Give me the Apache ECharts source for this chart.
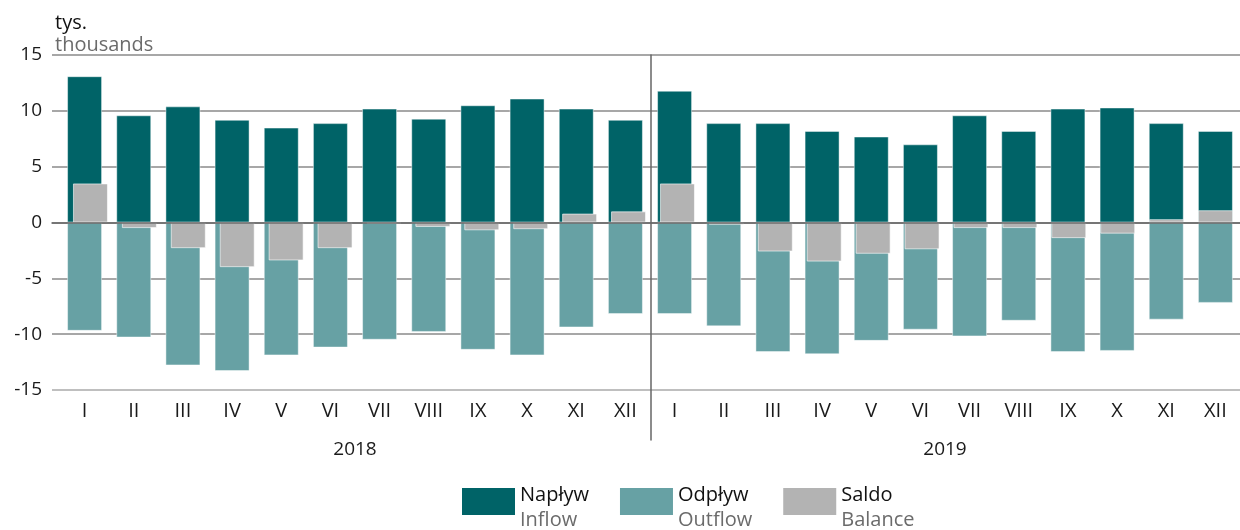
<!DOCTYPE html>
<html>
<head>
<meta charset="utf-8">
<script src="https://cdn.jsdelivr.net/npm/echarts@6/dist/echarts.min.js"></script>
<style>
  html, body { margin: 0; padding: 0; background: #fff; }
  #chart { width: 1240px; height: 530px; }
</style>
</head>
<body>
<div id="chart"></div>
<script>
// Data (thousands)
var months = ['I', 'II', 'III', 'IV', 'V', 'VI', 'VII', 'VIII', 'IX', 'X', 'XI', 'XII',
              'I', 'II', 'III', 'IV', 'V', 'VI', 'VII', 'VIII', 'IX', 'X', 'XI', 'XII'];
var years = ['2018', '2019'];
var inflow = [13.1, 9.6, 10.4, 9.2, 8.5, 8.9, 10.2, 9.3, 10.5, 11.1, 10.2, 9.2,
              11.8, 8.9, 8.9, 8.2, 7.7, 7.0, 9.6, 8.2, 10.2, 10.3, 8.9, 8.2];
var outflow = [-9.7, -10.3, -12.8, -13.3, -11.9, -11.2, -10.5, -9.8, -11.4, -11.9, -9.4, -8.2,
               -8.2, -9.3, -11.6, -11.8, -10.6, -9.6, -10.2, -8.8, -11.6, -11.5, -8.7, -7.2];
var balance = [3.5, -0.5, -2.3, -4.0, -3.4, -2.3, -0.1, -0.4, -0.7, -0.6, 0.8, 1.0,
               3.5, -0.2, -2.6, -3.5, -2.8, -2.4, -0.5, -0.5, -1.4, -1.0, 0.3, 1.1];
var yTicks = { min: -15, max: 15, step: 5 };

var FONT = "'Open Sans', 'Noto Sans', sans-serif";
var colors = ['#006367', '#67a1a4', '#b3b3b3'];

var chart = echarts.init(document.getElementById('chart'));

function valueAxis(grid, show) {
    return {
        type: 'value',
        gridIndex: grid,
        min: yTicks.min,
        max: yTicks.max,
        interval: yTicks.step,
        show: show
    };
}

var yMain = valueAxis(0, true);
yMain.axisLine = { show: false };
yMain.axisTick = { show: false };
yMain.axisLabel = { color: '#1a1a1a', fontSize: 19, fontFamily: FONT, margin: 10 };
yMain.splitLine = {
    lineStyle: {
        color: ['#aaaaaa', '#8a8a8a', '#8a8a8a', '#8a8a8a', '#8a8a8a', '#8a8a8a', '#8a8a8a'],
        width: 1.5
    }
};

chart.setOption({
    animation: false,
    textStyle: { fontFamily: FONT },
    color: colors,

    title: {
        text: '{a|tys.}\n{b|thousands}',
        left: 55,
        top: 12,
        padding: 0,
        textStyle: {
            fontWeight: 'normal',
            rich: {
                a: { fontSize: 20, color: '#111', lineHeight: 22, fontFamily: FONT, fontWeight: 'normal' },
                b: { fontSize: 20, color: '#6b6b6b', lineHeight: 22, fontFamily: FONT, fontWeight: 'normal' }
            }
        }
    },

    legend: {
        left: 462,
        top: 470,
        padding: 0,
        icon: 'rect',
        itemWidth: 53,
        itemHeight: 27,
        itemGap: 31,
        itemStyle: { borderWidth: 0 },
        data: ['Napływ', 'Odpływ', 'Saldo'],
        formatter: function (name) {
            var en = { 'Napływ': 'Inflow', 'Odpływ': 'Outflow', 'Saldo': 'Balance' };
            return '{a|' + name + '}\n{b|' + en[name] + '}';
        },
        textStyle: {
            fontSize: 20,
            lineHeight: 25,
            padding: [13, 0, 0, 0],
            rich: {
                a: { fontSize: 20, color: '#111', lineHeight: 25, fontFamily: FONT },
                b: { fontSize: 20, color: '#6b6b6b', lineHeight: 25, fontFamily: FONT }
            }
        }
    },

    grid: [
        // labels + gridlines
        { left: 52, right: 0, top: 55, bottom: 140 },
        // inflow / outflow
        { left: 60, right: -2, top: 55, bottom: 140 },
        // balance, shifted a bit right
        { left: 66, right: -8, top: 55, bottom: 140 },
        // year divider
        { left: 651, width: 1, top: 55, height: 385 }
    ],

    xAxis: [
        {
            type: 'category', gridIndex: 0, data: months, z: 10,
            axisLine: { lineStyle: { color: '#666', width: 1.5 } },
            axisTick: { show: false },
            axisLabel: { show: false }
        },
        {
            type: 'category', gridIndex: 1, data: months,
            axisLine: { show: false },
            axisTick: { show: false },
            axisLabel: { interval: 0, color: '#1a1a1a', fontSize: 20, fontFamily: FONT, margin: 11 }
        },
        {
            type: 'category', gridIndex: 1, data: years, position: 'bottom', offset: 38,
            axisLine: { show: false },
            axisTick: { show: false },
            axisLabel: { interval: 0, color: '#1a1a1a', fontSize: 19, fontFamily: FONT, margin: 12 }
        },
        { type: 'category', gridIndex: 2, data: months, show: false },
        { type: 'value', gridIndex: 3, min: 0, max: 1, show: false }
    ],

    yAxis: [
        yMain,
        valueAxis(1, false),
        valueAxis(2, false),
        {
            type: 'value', gridIndex: 3, min: 0, max: 1,
            axisLine: { show: true, lineStyle: { color: '#666', width: 1.5 } },
            axisTick: { show: false },
            axisLabel: { show: false },
            splitLine: { show: false }
        }
    ],

    series: [
        {
            name: 'Napływ', type: 'bar', xAxisIndex: 1, yAxisIndex: 1,
            barWidth: 35, barGap: '-100%',
            itemStyle: { color: colors[0], borderColor: 'rgba(255,255,255,0.45)', borderWidth: 1 },
            data: inflow
        },
        {
            name: 'Odpływ', type: 'bar', xAxisIndex: 1, yAxisIndex: 1,
            barWidth: 35, barGap: '-100%',
            itemStyle: { color: colors[1], borderColor: 'rgba(255,255,255,0.45)', borderWidth: 1 },
            data: outflow
        },
        {
            name: 'Saldo', type: 'bar', xAxisIndex: 3, yAxisIndex: 2,
            barWidth: 35,
            itemStyle: { color: colors[2], borderColor: 'rgba(255,255,255,0.6)', borderWidth: 1 },
            data: balance
        }
    ]
});
</script>
</body>
</html>
